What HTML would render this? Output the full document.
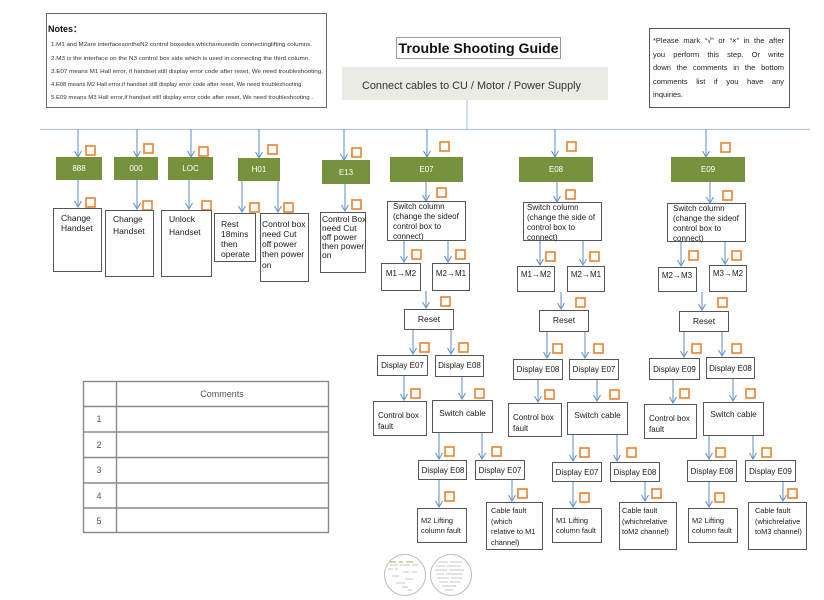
<!DOCTYPE html>
<html><head><meta charset="utf-8"><style>
html,body{margin:0;padding:0;background:#fff;}
body{position:relative;width:824px;height:600px;overflow:hidden;}
svg{display:block;position:absolute;left:0;top:0;}
text{font-family:"Liberation Sans",Arial,sans-serif;}
#note{position:absolute;left:653px;top:34px;width:131px;font-family:"Liberation Sans",Arial,sans-serif;font-size:7.5px;line-height:13.5px;color:#222;}
#note span{display:block;white-space:nowrap;text-align:justify;text-align-last:justify;height:13.5px;}
#note span.last{text-align-last:left;text-align:left;}
</style></head><body>
<svg width="824" height="600" viewBox="0 0 824 600" xmlns="http://www.w3.org/2000/svg">
<rect width="824" height="600" fill="#fff"/>

<!-- Notes box -->
<rect x="46.5" y="13.5" width="280" height="94" fill="#fff" stroke="#6b6b6b" stroke-width="1"/>
<text x="48" y="32" font-size="9" font-weight="bold" fill="#111">Notes：</text>
<g font-size="5.4" fill="#333">
<text x="51" y="46" textLength="261" lengthAdjust="spacingAndGlyphs">1.M1 and M2are interfacesontheN2 control boxsides whichareusedin connectinglifting columns.</text>
<text x="51" y="60" textLength="259" lengthAdjust="spacingAndGlyphs">2.M3 is the interface on the N3 control box side which is used in connecting the third column.</text>
<text x="51" y="73" textLength="272" lengthAdjust="spacingAndGlyphs">3.E07 means M1 Hall error, if handset still display error code after reset, We need troubleshooting.</text>
<text x="51" y="86" textLength="252" lengthAdjust="spacingAndGlyphs">4.E08 means M2 Hall error,if handset still display error code after reset, We need troubleshooting.</text>
<text x="51" y="99" textLength="262" lengthAdjust="spacingAndGlyphs">5.E09 means M3 Hall error,if handset still display error code after reset, We need troubleshooting .</text>
</g>

<!-- Title -->
<rect x="396.5" y="37.5" width="164" height="21" fill="#fff" stroke="#9a9a9a" stroke-width="1"/>
<text x="478.5" y="53" font-size="13.5" font-weight="bold" fill="#111" text-anchor="middle" textLength="160" lengthAdjust="spacingAndGlyphs">Trouble Shooting Guide</text>

<!-- Gray box -->
<rect x="342" y="67" width="266" height="33" fill="#ebebe5"/>
<text x="471.5" y="89" font-size="11" fill="#333" text-anchor="middle" textLength="219" lengthAdjust="spacingAndGlyphs">Connect cables to CU / Motor / Power Supply</text>

<!-- Right note box -->
<rect x="649.5" y="28.5" width="140" height="79" fill="#fff" stroke="#555" stroke-width="1"/>

<!-- main connector lines -->
<g stroke="#b5c9e2" stroke-width="1.2" fill="none">
<path d="M40 129.5H810"/>
<path d="M467 100V129"/>
</g>

<!-- Arrows -->
<g fill="none" stroke="#6a97cf" stroke-width="1.1">
<path d="M78 129V157M74.5 151L78 157L81.5 151"/>
<path d="M137 129V157M133.5 151L137 157L140.5 151"/>
<path d="M191 129V157M187.5 151L191 157L194.5 151"/>
<path d="M259 129V158M255.5 152L259 158L262.5 152"/>
<path d="M344 129V160M340.5 154L344 160L347.5 154"/>
<path d="M427 129V157M423.5 151L427 157L430.5 151"/>
<path d="M555 129V157M551.5 151L555 157L558.5 151"/>
<path d="M706 129V157M702.5 151L706 157L709.5 151"/>

<path d="M78 180V207M74.5 201L78 207L81.5 201"/>
<path d="M137 180V209M133.5 203L137 209L140.5 203"/>
<path d="M189 180V209M185.5 203L189 209L192.5 203"/>
<path d="M242 181V212M238.5 206L242 212L245.5 206"/>
<path d="M278 181V212M274.5 206L278 212L281.5 206"/>
<path d="M345 184V211M341.5 205L345 211L348.5 205"/>
<path d="M426 182V201M422.5 195L426 201L429.5 195"/>
<path d="M557 182V202M553.5 196L557 202L560.5 196"/>
<path d="M710 182V203M706.5 197L710 203L713.5 197"/>

<path d="M404 241V262M400.5 256L404 262L407.5 256"/>
<path d="M448 241V262M444.5 256L448 262L451.5 256"/>
<path d="M426 291V308M422.5 302L426 308L429.5 302"/>
<path d="M413 330V354M409.5 348L413 354L416.5 348"/>
<path d="M451 330V354M447.5 348L451 354L454.5 348"/>
<path d="M404 376V400M400.5 394L404 400L407.5 394"/>
<path d="M462 377V399M458.5 393L462 399L465.5 393"/>
<path d="M439 433V459M435.5 453L439 459L442.5 453"/>
<path d="M482 433V459M478.5 453L482 459L485.5 453"/>
<path d="M439 480V507M435.5 501L439 507L442.5 501"/>
<path d="M512 480V501M508.5 495L512 501L515.5 495"/>

<path d="M540 241V265M536.5 259L540 265L543.5 259"/>
<path d="M583 241V265M579.5 259L583 265L586.5 259"/>
<path d="M561 292V309M557.5 303L561 309L564.5 303"/>
<path d="M547 332V358M543.5 352L547 358L550.5 352"/>
<path d="M585 332V358M581.5 352L585 358L588.5 352"/>
<path d="M538 380V402M534.5 396L538 402L541.5 396"/>
<path d="M597 380V401M593.5 395L597 401L600.5 395"/>
<path d="M573 435V461M569.5 455L573 461L576.5 455"/>
<path d="M617 435V461M613.5 455L617 461L620.5 455"/>
<path d="M573 482V507M569.5 501L573 507L576.5 501"/>
<path d="M645 482V501M641.5 495L645 501L648.5 495"/>

<path d="M681 242V266M677.5 260L681 266L684.5 260"/>
<path d="M725 242V264M721.5 258L725 264L728.5 258"/>
<path d="M702 292V310M698.5 304L702 310L705.5 304"/>
<path d="M684 332V357M680.5 351L684 357L687.5 351"/>
<path d="M722 332V356M718.5 350L722 356L725.5 350"/>
<path d="M673 380V403M669.5 397L673 403L676.5 397"/>
<path d="M733 379V401M729.5 395L733 401L736.5 395"/>
<path d="M709 436V459M705.5 453L709 459L712.5 453"/>
<path d="M753 436V459M749.5 453L753 459L756.5 453"/>
<path d="M709 482V507M705.5 501L709 507L712.5 501"/>
<path d="M783 482V501M779.5 495L783 501L786.5 495"/>
</g>

<!-- Checkboxes -->
<g fill="none" stroke="#ee8a3c" stroke-width="1.7">
<rect x="86" y="146" width="9" height="9"/><rect x="144" y="144" width="9" height="9"/><rect x="199" y="147" width="9" height="9"/><rect x="268" y="145" width="9" height="9"/><rect x="352" y="148" width="9" height="9"/><rect x="440" y="142" width="9" height="9"/><rect x="567" y="142" width="9" height="9"/><rect x="721" y="143" width="9" height="9"/>
<rect x="86" y="198" width="9" height="9"/><rect x="143" y="201" width="9" height="9"/><rect x="202" y="201" width="9" height="9"/><rect x="250" y="203" width="9" height="9"/><rect x="284" y="203" width="9" height="9"/><rect x="352" y="200" width="9" height="9"/><rect x="437" y="188" width="9" height="9"/><rect x="566" y="190" width="9" height="9"/><rect x="723" y="191" width="9" height="9"/>
<rect x="412" y="250" width="9" height="9"/><rect x="456" y="250" width="9" height="9"/><rect x="441" y="297" width="9" height="9"/><rect x="420" y="343" width="9" height="9"/><rect x="459" y="343" width="9" height="9"/><rect x="411" y="389" width="9" height="9"/><rect x="475" y="389" width="9" height="9"/><rect x="445" y="447" width="9" height="9"/><rect x="492" y="447" width="9" height="9"/><rect x="445" y="492" width="9" height="9"/><rect x="518" y="489" width="9" height="9"/>
<rect x="546" y="252" width="9" height="9"/><rect x="590" y="252" width="9" height="9"/><rect x="576" y="298" width="9" height="9"/><rect x="553" y="344" width="9" height="9"/><rect x="594" y="344" width="9" height="9"/><rect x="545" y="390" width="9" height="9"/><rect x="610" y="390" width="9" height="9"/><rect x="580" y="448" width="9" height="9"/><rect x="627" y="448" width="9" height="9"/><rect x="580" y="493" width="9" height="9"/><rect x="652" y="489" width="9" height="9"/>
<rect x="689" y="251" width="9" height="9"/><rect x="732" y="251" width="9" height="9"/><rect x="718" y="298" width="9" height="9"/><rect x="692" y="344" width="9" height="9"/><rect x="732" y="344" width="9" height="9"/><rect x="680" y="389" width="9" height="9"/><rect x="746" y="389" width="9" height="9"/><rect x="716" y="448" width="9" height="9"/><rect x="762" y="448" width="9" height="9"/><rect x="715" y="493" width="9" height="9"/><rect x="788" y="489" width="9" height="9"/>
</g>

<!-- Green boxes -->
<g fill="#76923c">
<rect x="56" y="157" width="46" height="23"/>
<rect x="114" y="157" width="44" height="23"/>
<rect x="168" y="157" width="45" height="23"/>
<rect x="238" y="158" width="42" height="23"/>
<rect x="322" y="160" width="48" height="24"/>
<rect x="390" y="157" width="73" height="25"/>
<rect x="519" y="157" width="74" height="25"/>
<rect x="671" y="157" width="74" height="25"/>
</g>
<g fill="#fff" font-size="8" text-anchor="middle">
<text x="79" y="171">888</text>
<text x="136" y="171">000</text>
<text x="190.5" y="171">LOC</text>
<text x="259" y="172">H01</text>
<text x="346" y="175">E13</text>
<text x="426.5" y="172">E07</text>
<text x="556" y="172">E08</text>
<text x="708" y="172">E09</text>
</g>

<!-- White boxes -->
<g fill="#fff" stroke="#555" stroke-width="1">
<rect x="53.5" y="208.5" width="48" height="63"/>
<rect x="105.5" y="210.5" width="48" height="66"/>
<rect x="161.5" y="210.5" width="50" height="66"/>
<rect x="214.5" y="213.5" width="41" height="48"/>
<rect x="260.5" y="213.5" width="48" height="68"/>
<rect x="320.5" y="212.5" width="45" height="60"/>

<rect x="387.5" y="201.5" width="78" height="39"/>
<rect x="381.5" y="263.5" width="39" height="27"/>
<rect x="432.5" y="263.5" width="37" height="27"/>
<rect x="404.5" y="309.5" width="49" height="20"/>
<rect x="377.5" y="355.5" width="50" height="20"/>
<rect x="435.5" y="355.5" width="48" height="21"/>
<rect x="373.5" y="401.5" width="53" height="34"/>
<rect x="432.5" y="400.5" width="60" height="32"/>
<rect x="418.5" y="460.5" width="48" height="19"/>
<rect x="475.5" y="460.5" width="49" height="19"/>
<rect x="417.5" y="508.5" width="49" height="34"/>
<rect x="486.5" y="502.5" width="56" height="47"/>

<rect x="523.5" y="202.5" width="78" height="38"/>
<rect x="517.5" y="266.5" width="37" height="25"/>
<rect x="567.5" y="266.5" width="37" height="25"/>
<rect x="539.5" y="310.5" width="49" height="21"/>
<rect x="513.5" y="359.5" width="49" height="20"/>
<rect x="569.5" y="359.5" width="49" height="20"/>
<rect x="508.5" y="403.5" width="53" height="33"/>
<rect x="567.5" y="402.5" width="60" height="32"/>
<rect x="552.5" y="462.5" width="49" height="19"/>
<rect x="610.5" y="462.5" width="49" height="19"/>
<rect x="552.5" y="508.5" width="49" height="34"/>
<rect x="619.5" y="502.5" width="57" height="47"/>

<rect x="667.5" y="203.5" width="78" height="38"/>
<rect x="658.5" y="267.5" width="38" height="24"/>
<rect x="709.5" y="265.5" width="37" height="26"/>
<rect x="679.5" y="311.5" width="49" height="20"/>
<rect x="649.5" y="358.5" width="50" height="21"/>
<rect x="706.5" y="357.5" width="48" height="21"/>
<rect x="644.5" y="404.5" width="52" height="34"/>
<rect x="703.5" y="402.5" width="60" height="33"/>
<rect x="687.5" y="460.5" width="49" height="21"/>
<rect x="745.5" y="460.5" width="50" height="21"/>
<rect x="688.5" y="508.5" width="49" height="34"/>
<rect x="748.5" y="502.5" width="58" height="47"/>
</g>

<!-- Box texts left -->
<g font-size="8.5" fill="#1a1a1a">
<text x="61" y="221">Change</text><text x="61" y="231">Handset</text>
<text x="113" y="222">Change</text><text x="113" y="234">Handset</text>
<text x="169" y="222">Unlock</text><text x="169" y="235">Handset</text>
<text x="221" y="227">Rest</text><text x="221" y="237">18mins</text><text x="221" y="247">then</text><text x="221" y="257">operate</text>
<text x="262" y="227">Control box</text><text x="262" y="237">need Cut</text><text x="262" y="247">off power</text><text x="262" y="257">then power</text><text x="262" y="268">on</text>
<text x="322" y="222">Control Box</text><text x="322" y="231">need Cut</text><text x="322" y="240">off power</text><text x="322" y="249">then power</text><text x="322" y="258">on</text>
</g>

<!-- Column texts -->
<g font-size="8" fill="#1a1a1a">
<text x="393" y="209">Switch column</text><text x="393" y="219">(change the sideof</text><text x="393" y="229">control box  to</text><text x="393" y="239">connect)</text>
<text x="527" y="210">Switch column</text><text x="527" y="220">(change the side of</text><text x="527" y="230">control box to</text><text x="527" y="240">connect)</text>
<text x="673" y="211">Switch column</text><text x="673" y="221">(change the sideof</text><text x="673" y="231">control box  to</text><text x="673" y="241">connect)</text>

<text x="378" y="418">Control box</text><text x="378" y="429">fault</text>
<text x="513" y="420">Control box</text><text x="513" y="431">fault</text>
<text x="649" y="421">Control box</text><text x="649" y="432">fault</text>
</g>
<g font-size="7.4" fill="#1a1a1a">
<text x="421" y="523">M2 Lifting</text><text x="421" y="533">column fault</text>
<text x="556" y="523">M1 Lifting</text><text x="556" y="533">column fault</text>
<text x="692" y="523">M2 Lifting</text><text x="692" y="533">column fault</text>
<text x="491" y="513">Cable fault</text><text x="491" y="524">(which</text><text x="491" y="534">relative to M1</text><text x="491" y="545">channel)</text>
<text x="622" y="513">Cable fault</text><text x="622" y="524">(whichrelative</text><text x="622" y="534">toM2 channel)</text>
<text x="755" y="513">Cable fault</text><text x="755" y="524">(whichrelative</text><text x="755" y="534">toM3 channel)</text>
</g>
<g font-size="8" fill="#1a1a1a" text-anchor="middle">
<text x="401" y="276">M1→M2</text><text x="451" y="276">M2→M1</text>
<text x="536" y="277">M1→M2</text><text x="586" y="277">M2→M1</text>
<text x="677" y="278">M2→M3</text><text x="728" y="276">M3→M2</text>
<text x="429" y="322" font-size="8.5">Reset</text>
<text x="564" y="323" font-size="8.5">Reset</text>
<text x="704" y="324" font-size="8.5">Reset</text>
<text x="402.5" y="368">Display E07</text><text x="459.5" y="368">Display E08</text>
<text x="538" y="372">Display E08</text><text x="594" y="372">Display E07</text>
<text x="674.5" y="372">Display E09</text><text x="730.5" y="371">Display E08</text>
<text x="462.5" y="416" font-size="8.3">Switch cable</text>
<text x="597.5" y="418" font-size="8.3">Switch cable</text>
<text x="733.5" y="417" font-size="8.3">Switch cable</text>
<text x="443" y="473">Display E08</text><text x="500" y="473">Display E07</text>
<text x="577" y="475">Display E07</text><text x="635" y="475">Display E08</text>
<text x="712" y="474">Display E08</text><text x="770.5" y="474">Display E09</text>
</g>

<!-- Comments table -->
<g fill="none" stroke="#8a8a8a" stroke-width="1.4">
<rect x="83.5" y="381.5" width="245" height="151"/>
<path d="M116.5 381V533M83 406.5H329M83 432H329M83 457.5H329M83 483H329M83 508H329"/>
</g>
<g font-size="9" fill="#555">
<text x="222" y="397" text-anchor="middle">Comments</text>
<text x="99" y="422" text-anchor="middle">1</text>
<text x="99" y="448" text-anchor="middle">2</text>
<text x="99" y="473" text-anchor="middle">3</text>
<text x="99" y="499" text-anchor="middle">4</text>
<text x="99" y="524" text-anchor="middle">5</text>
</g>

<!-- Bottom circles -->
<circle cx="405" cy="575" r="20.5" fill="#fff" stroke="#bdbdbd" stroke-width="1"/>
<circle cx="451" cy="575" r="20.5" fill="#fff" stroke="#bdbdbd" stroke-width="1"/>
<g stroke="#b5b5b5" stroke-width="0.8">
<path d="M390 565h8M400 565h10M412 565h6M388 569h5M395 569h3M403 572h6M412 572h5M392 576h7M405 579h8M396 583h9M402 587h6M408 590h4"/>
<path d="M438 562h10M450 562h12M436 566h9M447 566h14M435 570h12M449 570h15M436 574h8M446 574h17M437 578h12M451 578h11M439 582h9M450 582h10M442 586h14M445 590h8"/>
</g>
<g stroke="#9cb15e" stroke-width="1">
<path d="M390 562h6M399 562h4M406 562h7"/>
</g>
</svg>
<div id="note">
<span>*Please mark “√” or “×” in the  after</span>
<span>you perform this step. Or write</span>
<span>down the comments in the bottom</span>
<span>comments list if you have any</span>
<span class="last">inquiries.</span>
</div>
</body></html>
